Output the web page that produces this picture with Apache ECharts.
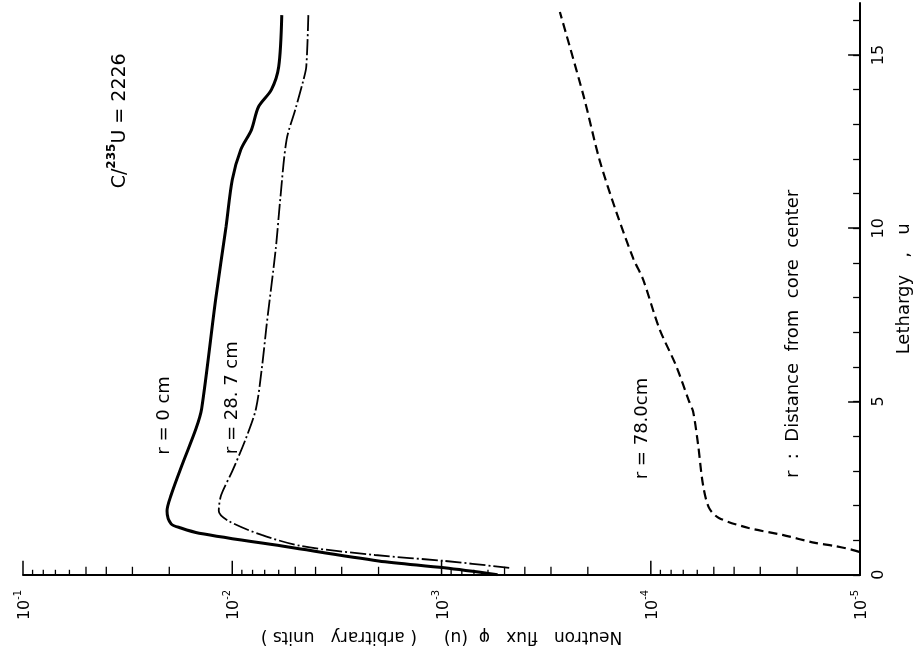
<!DOCTYPE html>
<html>
<head>
<meta charset="utf-8">
<title>Neutron flux vs lethargy</title>
<script src="https://cdn.jsdelivr.net/npm/echarts@6/dist/echarts.min.js"></script>
<style>
  html, body { margin: 0; padding: 0; background: #fff; }
  #chart { width: 921px; height: 650px; }
</style>
</head>
<body>
<div id="chart"></div>
<script>
// Neutron flux phi(u) (arbitrary units) against lethargy u, for three radii.
// Each point is [flux, lethargy]; lethargy runs up the page, flux runs right-to-left.

const r0Flux = [5.4e-4, 9.7e-4, 2.0e-3, 5.4e-3, 1.44e-2, 1.76e-2, 1.96e-2, 2.05e-2, 1.96e-2, 1.74e-2, 1.49e-2, 1.40e-2, 1.20e-2, 1.07e-2, 1.00e-2, 9.1e-3, 8.1e-3, 7.5e-3, 6.5e-3, 6.0e-3, 5.8e-3];
const r0Leth = [0.0, 0.2, 0.4, 0.8, 1.2, 1.35, 1.47, 1.84, 2.3, 3.16, 4.22, 4.8, 7.96, 10.06, 11.4, 12.27, 12.84, 13.5, 14.0, 14.66, 16.15];

const r287Flux = [4.75e-4, 9.7e-4, 2.08e-3, 4.68e-3, 7.24e-3, 1.04e-2, 1.16e-2, 1.13e-2, 1.0e-2, 8.6e-3, 7.7e-3, 7.2e-3, 6.86e-3, 6.2e-3, 5.9e-3, 5.5e-3, 5.0e-3, 4.57e-3, 4.43e-3, 4.33e-3];
const r287Leth = [0.2, 0.4, 0.57, 0.83, 1.15, 1.55, 1.84, 2.3, 2.99, 3.94, 4.8, 6.03, 7.18, 9.4, 10.83, 12.56, 13.42, 14.28, 14.66, 16.15];

const r780Flux = [1.01e-5, 1.09e-5, 1.32e-5, 1.64e-5, 2.35e-5, 3.41e-5, 4.73e-5, 5.27e-5, 5.63e-5, 5.94e-5, 6.28e-5, 6.56e-5, 7.57e-5, 9.1e-5, 1.09e-4, 1.21e-4, 1.46e-4, 1.76e-4, 2.09e-4, 2.72e-4];
const r780Leth = [0.66, 0.72, 0.83, 0.92, 1.15, 1.35, 1.64, 1.93, 2.59, 3.74, 4.71, 5.0, 6.03, 7.10, 8.53, 9.11, 10.46, 11.98, 13.79, 16.24];

// Axis ticks
const fluxDecades = [1e-5, 1e-4, 1e-3, 1e-2, 1e-1];
const fluxMantissas = [2, 3, 4, 5, 6, 7, 8, 9];
const lethargyMinorTicks = [0, 1, 2, 3, 4, 5, 6, 7, 8, 9, 10, 11, 12, 13, 14, 15, 16];
const lethargyMajorTicks = [0, 5, 10, 15];

// Text placed in the plot: [flux, lethargy] anchors
const notes = [
  { text: '{t|C/}{s|235}{t|U = 2226}', at: [3.54e-2, 13.1] },
  { text: 'r = 0 cm', at: [2.11e-2, 4.6] },
  { text: 'r = 28. 7 cm', at: [9.95e-3, 5.11] },
  { text: 'r = 78.0cm', at: [1.1e-4, 4.22] },
  { text: 'r  :  Distance  from  core  center', at: [2.09e-5, 6.95] }
];

const zip = (xs, ys) => xs.map((x, i) => [x, ys[i]]);

const fluxTickData = [];
fluxDecades.forEach((d, i) => {
  fluxTickData.push([d, 0]);
  if (i < fluxDecades.length - 1) fluxMantissas.forEach(m => fluxTickData.push([d * m, 0]));
});

const FONT = '"DejaVu Sans", "Liberation Sans", sans-serif';
const chart = echarts.init(document.getElementById('chart'), null, { renderer: 'canvas' });

const option = {
  backgroundColor: '#fff',
  animation: false,
  grid: { left: 23, right: 56, top: 3, bottom: 73, containLabel: false },
  xAxis: {
    type: 'log',
    logBase: 10,
    min: 1e-5,
    max: 1e-1,
    inverse: true,
    position: 'bottom',
    name: 'Neutron   flux   \u03c6  (u)     ( arbitrary   units )',
    nameLocation: 'middle',
    nameRotate: 180,
    nameGap: 49,
    nameTextStyle: { fontFamily: FONT, fontSize: 17, color: '#000' },
    axisLine: { show: true, lineStyle: { color: '#000', width: 2 } },
    axisTick: { show: false },
    splitLine: { show: false },
    axisLabel: {
      rotate: 90,
      margin: 15,
      color: '#000',
      fontFamily: FONT,
      formatter: v => '{b|10}{s|' + Math.round(Math.log10(v)) + '}',
      rich: {
        b: { fontFamily: FONT, fontSize: 16, color: '#000', lineHeight: 20, verticalAlign: 'bottom' },
        s: { fontFamily: FONT, fontSize: 10, color: '#000', lineHeight: 20, verticalAlign: 'top' }
      }
    }
  },
  yAxis: [
    {
      type: 'value',
      min: 0,
      max: 16.5,
      position: 'right',
      name: 'Lethargy   ,   u',
      nameLocation: 'middle',
      nameRotate: 90,
      nameGap: 28,
      nameTextStyle: { fontFamily: FONT, fontSize: 18, color: '#000' },
      axisLine: { show: true, lineStyle: { color: '#000', width: 2 } },
      axisTick: { show: true, inside: true, length: 7, customValues: lethargyMinorTicks, lineStyle: { color: '#000', width: 1.3 } },
      splitLine: { show: false },
      axisLabel: { show: true, customValues: lethargyMajorTicks, rotate: 90, margin: 11, color: '#000', fontFamily: FONT, fontSize: 16 }
    },
    {
      type: 'value',
      min: 0,
      max: 16.5,
      position: 'right',
      axisLine: { show: false },
      axisTick: { show: true, inside: true, length: 12, customValues: lethargyMajorTicks, lineStyle: { color: '#000', width: 1.5 } },
      axisLabel: { show: false },
      splitLine: { show: false }
    }
  ],
  series: [
    {
      name: 'r = 0 cm',
      type: 'line',
      data: zip(r0Flux, r0Leth),
      showSymbol: false,
      smooth: 0.3,
      lineStyle: { color: '#000', width: 3 }
    },
    {
      name: 'r = 28.7 cm',
      type: 'line',
      data: zip(r287Flux, r287Leth),
      showSymbol: false,
      smooth: 0.3,
      lineStyle: { color: '#000', width: 1.8, type: [16, 3, 2, 3] }
    },
    {
      name: 'r = 78.0 cm',
      type: 'line',
      data: zip(r780Flux, r780Leth),
      showSymbol: false,
      smooth: 0.3,
      lineStyle: { color: '#000', width: 2.2, type: [9, 5] }
    },
    {
      // decade and sub-decade tick marks along the flux axis
      name: 'flux ticks',
      type: 'custom',
      data: fluxTickData,
      silent: true,
      clip: false,
      renderItem: (params, api) => {
        const v = api.value(0);
        const p = api.coord([v, api.value(1)]);
        const mant = Math.round(v / Math.pow(10, Math.floor(Math.log10(v) + 1e-9)));
        const len = mant === 1 ? 14 : (mant <= 5 ? 8 : 5);
        return {
          type: 'line',
          shape: { x1: p[0], y1: p[1], x2: p[0], y2: p[1] - len },
          style: { stroke: '#000', lineWidth: mant === 1 ? 1.5 : 1.3 }
        };
      }
    }
  ]
};

chart.setOption(option);

// Curve labels and the fuel-ratio note, drawn rotated like the axis text
const graphics = notes.map((n, i) => {
  const p = chart.convertToPixel({ xAxisIndex: 0, yAxisIndex: 0 }, n.at);
  const size = i === 0 ? 19 : 18;
  return {
    type: 'text',
    x: p[0],
    y: p[1],
    rotation: Math.PI / 2,
    silent: true,
    style: {
      text: n.text,
      fontFamily: FONT,
      fontSize: size,
      fill: '#000',
      align: 'center',
      verticalAlign: 'middle',
      rich: {
        t: { fontFamily: FONT, fontSize: size, fill: '#000', lineHeight: 24, verticalAlign: 'bottom' },
        s: { fontFamily: FONT, fontSize: 12, fontWeight: 'bold', fill: '#000', lineHeight: 24, verticalAlign: 'top' }
      }
    }
  };
});
chart.setOption({ graphic: graphics });
</script>
</body>
</html>
